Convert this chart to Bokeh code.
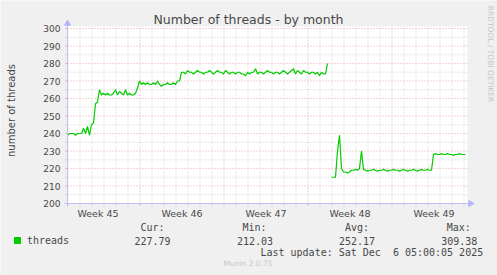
import math
from bokeh.plotting import figure
from bokeh.models import Range1d, Label
from bokeh.core.properties import value
from bokeh.embed import file_html
from bokeh.resources import INLINE

# ---------------- data ----------------
step_hours = 4                      # sampling interval of the series
part1_start_hour = 0                # first sample (hours since graph start)
threads_part1 = [
    239, 240, 240, 240, 239, 240, 240, 240, 243, 240,
    244, 239, 245, 246, 257, 258, 265, 262, 263, 262,
    263, 262, 262, 263, 265, 262, 264, 263, 262, 265,
    262, 263, 262, 262, 263, 266, 270, 268, 269, 268,
    269, 268, 268, 269, 268, 270, 268, 267, 268, 268,
    269, 268, 268, 269, 268, 270, 270, 275, 275, 274,
    276, 275, 275, 274, 275, 276, 275, 275, 274, 275,
    275, 276, 275, 274, 275, 276, 275, 275, 274, 276,
    275, 274, 275, 275, 274, 275, 275, 274, 274, 273,
    275, 274, 275, 275, 277, 274, 275, 275, 274, 275,
    276, 275, 275, 274, 275, 275, 274, 275, 276, 275,
    274, 275, 276, 277, 274, 276, 275, 274, 276, 275,
    275, 274, 275, 275, 274, 275, 273, 275, 274, 274,
    280,
]
part2_start_hour = 528
threads_part2 = [
    215, 215, 215, 230, 239, 220, 218, 218, 217.5, 218,
    219, 219, 219.5, 219, 220, 230, 219.5, 219, 218.5, 219,
    219, 219.5, 219, 218.5, 219, 219, 219.5, 219, 218.5, 219,
    219, 219.5, 219, 219, 218.5, 219, 219.5, 219, 218.5, 219,
    219, 219.5, 219, 218.5, 219, 219.5, 219, 219, 219.5, 219,
    219, 228, 228.5, 228, 228, 228.5, 228, 228, 228.5, 228,
    228, 227.5, 228, 228, 228.5, 228, 228, 228,
]
graph_hours = 800
week_numbers = [45, 46, 47, 48, 49]
week_boundary_hours = [145, 313, 481, 649]
week_label_hours = [61, 229, 397, 565, 733]
day_line_hours = [1 + 24 * k for k in range(34)]
y_major = list(range(200, 301, 10))
y_minor = list(range(205, 300, 10))
legend_name = "threads"
stat_heads = ["Cur:", "Min:", "Avg:", "Max:"]
stat_values = ["227.79", "212.03", "252.17", "309.38"]
last_update = "Last update: Sat Dec\u00a0 6 05:00:05 2025"
version_text = "Munin 2.0.75"
title_text = "Number of threads - by month"
y_label = "number of threads"
watermark = "RRDTOOL / TOBI OETIKER"

# ---------------- layout ----------------
W, H = 497, 275
FL, FR, FT, FB = 67, 467, 28, 203          # plot area in canvas pixels
Y0, Y1 = 200, 300
kx = graph_hours / (FR - FL)                # hours per pixel
ky = (Y1 - Y0) / (FB - FT)                  # units per pixel

def dx(px):
    return (px - FL) * kx

def dy(py):
    return Y0 + (FB - py) * ky

p = figure(width=W, height=H, x_range=Range1d(dx(0), dx(W)), y_range=Range1d(dy(H), dy(0)),
           output_backend="svg", toolbar_location=None,
           x_axis_location=None, y_axis_location=None,
           min_border=0, min_border_left=0, min_border_right=0, min_border_top=0, min_border_bottom=0,
           background_fill_color="#f0f0f0", border_fill_color="#f0f0f0", outline_line_color=None)
p.xgrid.visible = False
p.ygrid.visible = False

GRID = "#cfcfcf"
MGRID = "#e8a6a6"
TXT = "#484848"
AXIS = "#c0c0f4"
ARROW = "#b4b4ff"

# white canvas of the graph area
p.quad(left=[dx(FL)], right=[dx(FR)], bottom=[dy(FB)], top=[dy(FT - 2)],
       fill_color="white", line_color=None)

# grid lines (dotted), limited to the graph area
minor_days = [h for h in day_line_hours if h not in week_boundary_hours and 0 < h <= graph_hours]
def vgrid(xs, color):
    p.segment(x0=xs, x1=xs, y0=[Y0] * len(xs), y1=[Y1] * len(xs),
              line_color=color, line_width=1, line_dash="1 2")
def hgrid(ys, color):
    p.segment(x0=[0] * len(ys), x1=[graph_hours] * len(ys), y0=ys, y1=ys,
              line_color=color, line_width=1, line_dash="1 2")
vgrid(minor_days, GRID)
hgrid(y_minor, GRID)
vgrid(week_boundary_hours, MGRID)
hgrid(y_major[1:], MGRID)

# tick marks
p.segment(x0=[dx(FL - 2)] * len(y_minor), x1=[dx(FL)] * len(y_minor), y0=y_minor, y1=y_minor,
          line_color=GRID, line_width=1)
p.segment(x0=[dx(FL - 2)] * len(y_major), x1=[dx(FL)] * len(y_major), y0=y_major, y1=y_major,
          line_color=MGRID, line_width=1)
p.segment(x0=minor_days, x1=minor_days, y0=[dy(FB)] * len(minor_days), y1=[dy(FB + 2)] * len(minor_days),
          line_color=GRID, line_width=1)
p.segment(x0=week_boundary_hours, x1=week_boundary_hours, y0=[dy(FB)] * 4, y1=[dy(FB + 2)] * 4,
          line_color=MGRID, line_width=1)

# series
x1 = [part1_start_hour + step_hours * i for i in range(len(threads_part1))]
x2 = [part2_start_hour + step_hours * i for i in range(len(threads_part2))]
p.line(x1, threads_part1, line_color="#00cc00", line_width=1.2)
p.line(x2, threads_part2, line_color="#00cc00", line_width=1.2)

# axis lines and arrows
p.segment(x0=[dx(FL - 3), dx(FL)], x1=[dx(FR + 2), dx(FL)], y0=[Y0, dy(FB + 3)], y1=[Y0, dy(FT - 4)],
          line_color=AXIS, line_width=1)
p.scatter(x=[dx(FR + 3)], y=[Y0], marker="triangle", size=6, angle=-math.pi / 2,
          fill_color=ARROW, line_color=ARROW)
p.scatter(x=[dx(FL)], y=[dy(FT - 5)], marker="triangle", size=6,
          fill_color=ARROW, line_color=ARROW)

# tick labels
p.text(x=[dx(FL - 7)] * len(y_major), y=y_major, text=[str(v) for v in y_major],
       text_align="right", text_baseline="middle", text_font=value("DejaVu Sans"),
       text_font_size=value("9px"), text_color=TXT)
p.text(x=week_label_hours, y=[dy(212.7)] * len(week_label_hours),
       text=[f"Week {w}" for w in week_numbers],
       text_align="center", text_baseline="middle", text_font=value("DejaVu Sans"),
       text_font_size=value("9.5px"), text_color=TXT)

def lab(text, px, py, size, align="center", color=TXT, font="DejaVu Sans", angle=0.0):
    p.add_layout(Label(x=dx(px), y=dy(py), text=text, text_align=align, text_baseline="middle",
                       text_font=font, text_font_size=size, text_color=color, angle=angle))

lab(title_text, 248, 18.5, "12.5px")
lab(y_label, 11, 110, "10px", angle=math.pi / 2)
lab(watermark, 490, 53.5, "7.5px", color="#c6c6c6", angle=-math.pi / 2)

MONO = "DejaVu Sans Mono"
p.scatter(x=[dx(17)], y=[dy(240)], marker="square", size=6, fill_color="#00cc00", line_color="#00cc00")
lab(legend_name, 26.5, 240, "10px", align="left", font=MONO)
head_cx = [152, 254, 356.5, 458.3]
val_cx = [152, 254.5, 356.5, 458.8]
for t, cx in zip(stat_heads, head_cx):
    lab(t, cx, 227.3, "10px", font=MONO)
for t, cx in zip(stat_values, val_cx):
    lab(t, cx, 240, "10px", font=MONO)
lab(last_update, 482.7, 251.7, "10px", align="right", font=MONO)
lab(version_text, 247.5, 263.3, "7.5px", color="#c8c8c8")

open("out.html", "w").write(file_html(p, INLINE))
